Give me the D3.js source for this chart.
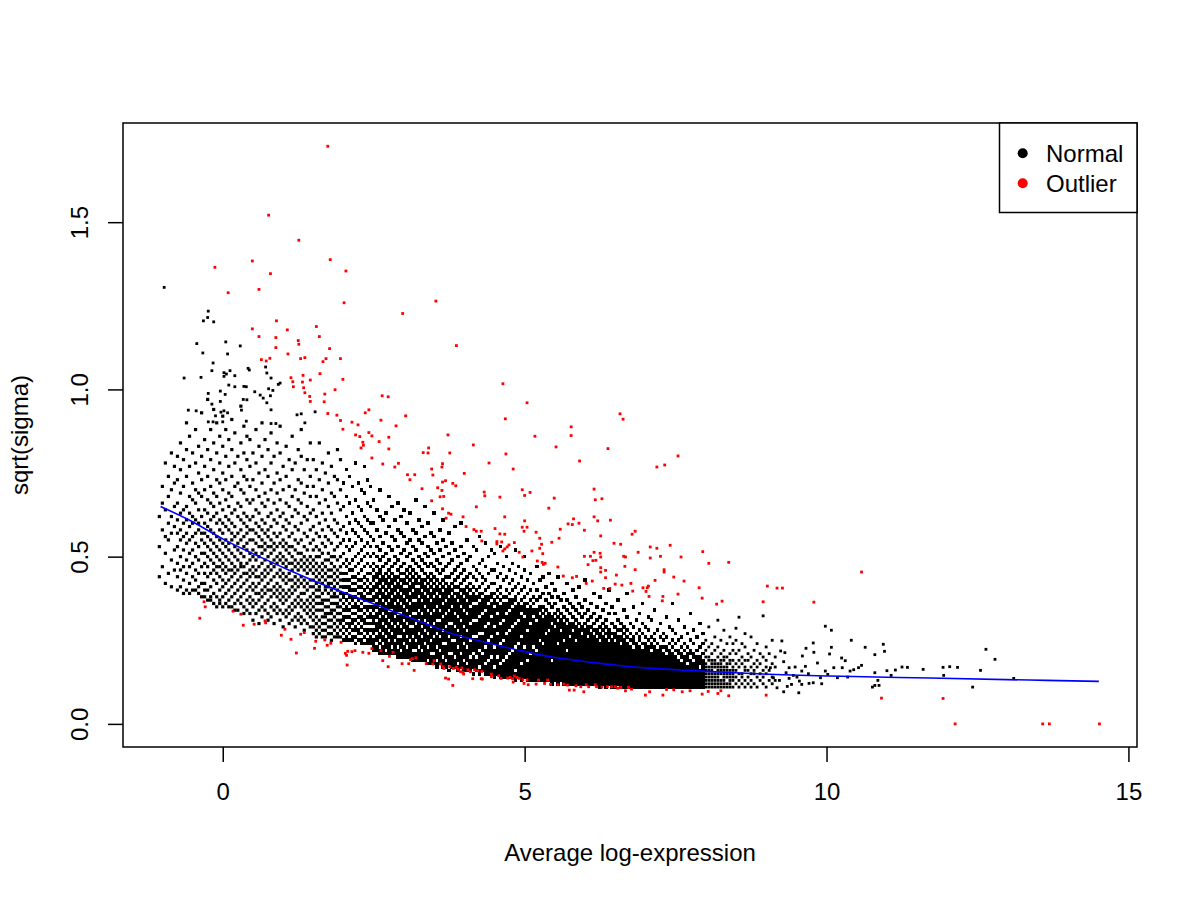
<!DOCTYPE html>
<html><head><meta charset="utf-8">
<script src="https://cdn.jsdelivr.net/npm/d3@7"></script>
<style>body{margin:0;background:#fff}svg{display:block}text{font-family:"Liberation Sans",Arial,Helvetica,sans-serif;fill:#000}</style>
</head><body><svg id="c" width="1200" height="900"></svg>
<script>
// ---- tick labels / legend ----
const xTicks=[0,5,10,15];
const yTicks=[0,0.5,1,1.5];
const legendLabels=["Normal","Outlier"];
const legendColors=["#000000","#ff0000"];
// ---- fitted trend (blue) ----
const trendX=[-1.03,-0.54,0.02,0.57,1.12,1.67,2.22,2.77,3.30,3.83,4.38,4.93,5.48,6.03,6.58,7.13,7.69,8.24,8.57,10.05,11.71,13.36,14.51];
const trendY=[0.650,0.608,0.551,0.503,0.458,0.416,0.378,0.340,0.304,0.268,0.243,0.219,0.199,0.186,0.174,0.166,0.160,0.155,0.152,0.143,0.137,0.131,0.127];
// ---- normal points, upper-left scatter [x,y] ----
const normalUpper=[[-0.97,1.305],[-0.24,1.234],[-0.25,1.215],[-0.32,1.205],[-0.15,1.202],[-0.43,1.137],[0.05,1.142],[0.29,1.130],[-0.33,1.109],[0.08,1.106],[-0.16,1.079],[-0.64,1.034],[-0.36,1.036],[-0.18,1.056],[0.02,1.050],[0.06,1.046],[0.02,1.039],[0.12,1.056],[0.20,1.041],[0.42,1.063],[0.44,1.058],[0.71,1.067],[0.73,1.049],[0.80,1.034],[0.92,1.015],[0.95,1.019],[0.10,1.013],[0.20,1.008],[0.35,1.009],[0.39,1.008],[0.53,0.993],[0.76,1.002],[0.83,0.997],[-0.24,0.988],[-0.04,0.995],[0.04,0.985],[0.62,0.983],[0.67,0.974],[0.79,0.981],[-0.18,0.956],[-0.04,0.964],[0.34,0.970],[0.40,0.969],[0.73,0.960],[-0.57,0.938],[-0.44,0.936],[-0.03,0.932],[0.02,0.936],[0.08,0.930],[-0.12,0.921],[0.31,0.938],[0.80,0.939],[1.23,0.924],[1.30,0.927],[1.53,0.933],[-0.24,0.903],[-0.16,0.903],[0.00,0.903],[0.39,0.905],[0.80,0.898],[0.88,0.898],[1.36,0.900]];
// ---- normal points, right tail [x,y] ----
const normalTail=[[8.55,0.319],[8.50,0.286],[8.95,0.323],[9.07,0.168],[9.12,0.138],[9.18,0.108],[9.26,0.248],[9.60,0.203],[9.78,0.242],[9.66,0.226],[9.79,0.214],[9.98,0.292],[10.08,0.280],[10.41,0.250],[10.64,0.229],[10.94,0.238],[10.96,0.217],[10.80,0.207],[10.08,0.229],[10.05,0.209],[10.25,0.197],[10.31,0.189],[10.39,0.158],[10.45,0.162],[10.53,0.168],[10.58,0.175],[10.80,0.153],[10.85,0.130],[10.87,0.115],[10.80,0.115],[10.76,0.110],[11.00,0.159],[11.07,0.145],[11.14,0.161],[11.25,0.170],[11.34,0.169],[11.60,0.163],[11.93,0.169],[12.04,0.171],[12.17,0.169],[11.94,0.145],[12.55,0.160],[12.64,0.223],[12.79,0.193],[12.42,0.110],[13.10,0.136],[9.29,0.186],[9.38,0.168],[9.48,0.170],[9.59,0.158],[9.51,0.140],[9.38,0.136],[9.59,0.118],[9.71,0.121],[9.78,0.123],[9.90,0.138],[9.98,0.158],[10.18,0.138],[10.26,0.168],[10.02,0.148],[9.29,0.096],[9.54,0.093],[9.42,0.118],[9.33,0.153],[9.24,0.218],[9.31,0.213],[9.45,0.145],[9.65,0.172],[9.85,0.182],[9.22,0.130],[9.35,0.112],[9.55,0.128],[10.12,0.168],[10.35,0.140],[9.70,0.150],[9.92,0.120]];
// ---- normal points by column: [x, y1, y2, ...] ----
const normalColsLeft=[
[-1.05,.44,.53,.62],[-1.00,.47,.58,.66,.71],[-0.95,.42,.51,.56,.64,.78],[-0.90,.45,.55,.60,.68,.74],[-0.85,.41,.49,.57,.62,.70,.81],[-0.80,.46,.52,.59,.65,.72,.77],
[-0.75,.40,.44,.48,.53,.57,.61,.66,.73,.80],[-0.70,.41,.46,.50,.55,.58,.63,.69,.76,.84],[-0.65,.39,.43,.47,.52,.56,.60,.64,.71,.79],[-0.60,.40,.45,.49,.54,.57,.61,.65,.74,.82,.90],
[-0.55,.39,.42,.47,.51,.55,.59,.63,.68,.77,.86],[-0.50,.40,.44,.48,.52,.56,.60,.62,.67,.72,.81],[-0.45,.40,.43,.46,.50,.54,.57,.61,.66,.70,.78,.88],[-0.40,.39,.41,.45,.49,.53,.58,.60,.64,.69,.75,.83],
[-0.35,.38,.42,.47,.51,.55,.57,.62,.68,.73,.80,.93],[-0.30,.38,.40,.42,.45,.48,.51,.54,.57,.60,.64,.70,.77,.85],[-0.25,.37,.40,.44,.47,.50,.53,.56,.59,.63,.67,.74,.82,.97],[-0.20,.37,.38,.41,.45,.49,.52,.55,.58,.61,.66,.71,.79,.88],
[-0.15,.36,.39,.43,.46,.48,.51,.54,.57,.62,.65,.69,.76,.84,.94],[-0.10,.35,.38,.42,.45,.47,.50,.53,.56,.60,.63,.68,.73,.81,.90],[-0.05,.36,.37,.40,.44,.47,.49,.52,.55,.58,.61,.66,.72,.78,.86],[0.00,.35,.38,.41,.43,.46,.48,.51,.54,.57,.60,.64,.70,.75,.83,.92],
[0.05,.36,.39,.42,.45,.47,.50,.53,.55,.59,.62,.67,.73,.80,.88],[0.10,.35,.37,.40,.43,.46,.49,.52,.54,.58,.61,.65,.69,.77,.85],[0.15,.35,.38,.41,.44,.46,.48,.51,.55,.57,.60,.63,.68,.74,.82,.91],[0.20,.34,.36,.39,.42,.45,.47,.50,.53,.56,.59,.64,.71,.78,.87],
[0.25,.34,.37,.40,.43,.46,.49,.52,.54,.57,.62,.66,.72,.80],[0.30,.36,.38,.41,.44,.47,.48,.51,.55,.58,.61,.65,.70,.76,.84,.95],[0.35,.33,.35,.39,.42,.45,.47,.50,.53,.56,.60,.63,.69,.74,.81,.89],[0.40,.34,.37,.40,.43,.45,.48,.52,.54,.57,.59,.62,.67,.73,.79,.86],
[0.45,.33,.36,.38,.41,.44,.46,.49,.51,.55,.58,.61,.66,.71,.77,.85],
[0.50,.31,.35,.37,.40,.42,.45,.47,.50,.52,.55,.58,.62,.67,.73,.81],[0.55,.33,.36,.39,.41,.44,.46,.49,.51,.54,.57,.60,.64,.70,.78,.88],[0.60,.30,.34,.37,.39,.42,.44,.47,.50,.53,.56,.59,.63,.68,.75,.83],[0.65,.32,.35,.38,.40,.43,.45,.48,.51,.53,.55,.58,.61,.66,.72,.80,.90],
[0.70,.34,.36,.39,.41,.44,.46,.49,.52,.54,.57,.60,.65,.69,.76,.85],[0.75,.31,.33,.37,.40,.42,.45,.47,.50,.53,.56,.58,.62,.67,.74,.82],[0.80,.32,.35,.38,.40,.43,.46,.48,.51,.53,.55,.59,.63,.70,.78,.87],[0.85,.30,.34,.36,.39,.41,.44,.47,.49,.52,.54,.57,.61,.66,.72,.80],
[0.90,.33,.35,.38,.40,.42,.45,.48,.50,.53,.56,.60,.64,.69,.75,.84],[0.95,.31,.34,.37,.39,.41,.44,.46,.49,.51,.54,.57,.62,.67,.73,.81,.89],[1.00,.29,.33,.36,.38,.40,.43,.45,.48,.50,.53,.55,.59,.63,.70,.77],[1.05,.32,.34,.37,.39,.42,.44,.47,.49,.52,.54,.58,.61,.66,.74,.83],
[1.10,.30,.33,.35,.38,.40,.43,.45,.48,.51,.53,.56,.60,.65,.71,.79],[1.15,.31,.34,.36,.39,.41,.43,.46,.48,.50,.53,.57,.62,.68,.76,.86],[1.20,.29,.32,.35,.37,.40,.42,.44,.47,.49,.52,.55,.59,.64,.70,.78],[1.25,.31,.33,.36,.38,.41,.43,.46,.48,.51,.54,.58,.63,.67,.73,.82],
[1.30,.30,.32,.35,.37,.39,.42,.44,.47,.49,.51,.55,.60,.66,.72,.80,.88],[1.35,.28,.31,.34,.36,.39,.41,.43,.46,.48,.50,.53,.57,.62,.69,.76],[1.40,.30,.33,.35,.37,.40,.42,.45,.47,.49,.52,.56,.61,.65,.71,.79],[1.45,.29,.32,.34,.36,.38,.41,.43,.46,.48,.50,.54,.58,.63,.68,.74,.84],
[1.50,.27,.29,.31,.33,.35,.37,.39,.41,.43,.45,.47,.49,.52,.55,.59,.64,.71,.79],[1.55,.26,.28,.30,.32,.34,.36,.38,.40,.42,.44,.46,.48,.50,.53,.57,.62,.68,.76],[1.60,.27,.29,.31,.34,.36,.38,.40,.41,.43,.45,.47,.50,.52,.56,.60,.66,.73,.84],[1.65,.26,.28,.30,.32,.34,.36,.37,.39,.42,.44,.46,.48,.51,.54,.58,.63,.70,.78],
[1.70,.26,.28,.30,.32,.33,.35,.37,.40,.41,.43,.45,.47,.49,.53,.56,.61,.67,.75],[1.75,.27,.29,.31,.33,.35,.37,.39,.41,.42,.44,.46,.49,.51,.55,.59,.65,.72,.81],[1.80,.25,.27,.29,.31,.33,.34,.36,.38,.40,.42,.44,.46,.48,.50,.54,.58,.63,.69,.77],[1.85,.26,.28,.30,.32,.34,.36,.38,.39,.41,.43,.45,.47,.50,.52,.57,.61,.68,.74],
[1.90,.26,.27,.29,.31,.33,.35,.36,.38,.40,.42,.44,.46,.49,.53,.56,.60,.66,.73,.82],[1.95,.26,.28,.30,.31,.33,.35,.37,.39,.41,.43,.45,.47,.50,.54,.58,.64,.70,.79]];
const normalColsMid=[
[2.00,.25,.27,.29,.31,.32,.34,.36,.38,.39,.41,.43,.45,.48,.51,.55,.59,.65,.72],[2.05,.25,.26,.28,.30,.32,.34,.35,.37,.39,.41,.43,.45,.47,.49,.53,.57,.62,.68,.76],
[2.10,.25,.27,.29,.30,.32,.34,.36,.38,.40,.41,.43,.46,.48,.52,.55,.60,.66,.74],[2.15,.25,.26,.28,.30,.31,.33,.35,.37,.38,.40,.42,.44,.46,.49,.53,.58,.63,.71],[2.20,.24,.26,.28,.29,.31,.33,.35,.36,.38,.40,.42,.44,.47,.50,.54,.57,.61,.67,.78],[2.25,.25,.27,.28,.30,.32,.34,.35,.37,.39,.41,.43,.45,.48,.51,.56,.60,.65,.72],
[2.30,.24,.25,.27,.29,.31,.32,.34,.36,.38,.39,.41,.43,.46,.49,.52,.55,.59,.64,.70],[2.35,.24,.26,.28,.30,.31,.33,.35,.37,.38,.40,.42,.44,.47,.50,.53,.58,.62,.69,.77],[2.40,.24,.25,.27,.28,.30,.32,.34,.35,.37,.39,.41,.43,.45,.48,.51,.54,.57,.61,.66,.73],[2.45,.24,.25,.26,.28,.30,.32,.33,.35,.37,.39,.40,.42,.45,.47,.50,.53,.56,.60,.65,.71],
[2.50,.22,.23,.24,.25,.27,.28,.30,.31,.32,.34,.35,.37,.38,.40,.41,.43,.44,.46,.48,.51,.55,.60,.67],[2.55,.22,.23,.25,.26,.28,.29,.30,.32,.33,.35,.36,.38,.39,.41,.42,.44,.45,.47,.50,.53,.58,.64],[2.60,.21,.22,.24,.26,.27,.29,.30,.31,.33,.34,.36,.37,.39,.40,.42,.43,.45,.46,.49,.52,.56,.62,.70],[2.65,.21,.22,.23,.25,.26,.28,.29,.31,.32,.34,.35,.36,.38,.39,.41,.43,.44,.47,.50,.54,.61],
[2.70,.21,.23,.24,.25,.27,.28,.30,.31,.33,.34,.35,.37,.38,.40,.42,.43,.45,.48,.51,.57,.63],[2.75,.21,.22,.23,.24,.26,.27,.29,.30,.32,.33,.35,.36,.38,.39,.41,.42,.44,.46,.49,.53,.59,.68],[2.80,.21,.22,.24,.25,.26,.28,.29,.31,.32,.33,.35,.36,.37,.39,.40,.42,.43,.45,.47,.52,.56,.65],[2.85,.21,.22,.23,.24,.26,.27,.28,.30,.31,.33,.34,.35,.37,.38,.40,.41,.43,.44,.48,.50,.55,.61],
[2.90,.20,.21,.22,.24,.25,.27,.28,.29,.31,.32,.34,.35,.36,.38,.39,.41,.42,.44,.46,.49,.53,.58,.66],[2.95,.20,.21,.23,.24,.25,.27,.28,.30,.31,.32,.34,.35,.37,.38,.40,.41,.43,.45,.47,.51,.57,.62],[3.00,.20,.21,.22,.23,.25,.26,.27,.29,.30,.32,.33,.34,.36,.37,.39,.40,.42,.43,.45,.48,.52,.56,.64],[3.05,.20,.21,.22,.24,.25,.27,.28,.29,.31,.32,.33,.35,.36,.38,.39,.40,.42,.44,.46,.50,.54,.60],
[3.10,.20,.21,.22,.23,.24,.26,.27,.28,.30,.31,.33,.34,.35,.37,.38,.40,.41,.43,.45,.47,.51,.55,.63],[3.15,.19,.20,.21,.23,.24,.25,.27,.28,.30,.31,.32,.34,.35,.36,.38,.39,.41,.42,.44,.46,.49,.53,.58],[3.20,.19,.20,.21,.23,.24,.26,.27,.28,.29,.31,.32,.34,.35,.36,.38,.39,.40,.42,.43,.45,.48,.52,.57,.67],[3.25,.19,.20,.21,.22,.24,.25,.26,.28,.29,.30,.32,.33,.35,.36,.37,.39,.40,.42,.44,.47,.50,.55,.61],
[3.30,.19,.20,.21,.23,.24,.25,.27,.28,.30,.31,.32,.34,.35,.36,.38,.39,.41,.42,.43,.46,.49,.54,.59],[3.35,.19,.20,.21,.22,.23,.25,.26,.27,.29,.30,.32,.33,.34,.36,.37,.38,.40,.41,.43,.45,.48,.51,.56,.65],[3.40,.18,.20,.21,.22,.24,.25,.26,.28,.29,.31,.32,.33,.35,.36,.37,.39,.40,.42,.44,.47,.50,.53,.60],[3.45,.18,.19,.20,.22,.23,.24,.26,.27,.28,.30,.31,.32,.34,.35,.36,.38,.39,.41,.43,.45,.48,.52,.57],
[3.50,.18,.19,.20,.22,.23,.24,.25,.27,.28,.29,.31,.32,.33,.35,.36,.37,.39,.40,.42,.44,.47,.51,.56,.63],[3.55,.17,.18,.20,.21,.22,.24,.25,.26,.28,.29,.30,.32,.33,.34,.36,.37,.38,.40,.41,.43,.46,.49,.54],[3.60,.18,.19,.20,.21,.23,.24,.25,.27,.28,.29,.30,.32,.33,.35,.36,.37,.39,.40,.42,.45,.48,.52,.58],[3.65,.17,.18,.19,.21,.22,.23,.25,.26,.27,.29,.30,.31,.33,.34,.35,.37,.38,.39,.41,.43,.46,.50,.55,.61],
[3.70,.17,.18,.20,.21,.22,.23,.25,.26,.27,.28,.30,.31,.32,.34,.35,.36,.38,.39,.40,.42,.44,.47,.53],[3.75,.16,.18,.19,.20,.22,.23,.24,.25,.27,.28,.29,.31,.32,.33,.35,.36,.37,.39,.40,.41,.44,.48,.51,.57],[3.80,.17,.18,.19,.20,.22,.23,.24,.26,.27,.28,.29,.31,.32,.33,.34,.36,.37,.38,.40,.42,.45,.49,.54],[3.85,.17,.18,.19,.21,.22,.23,.24,.26,.27,.28,.30,.31,.32,.34,.35,.36,.37,.39,.41,.43,.46,.52,.59],
[3.90,.16,.17,.19,.20,.21,.22,.24,.25,.26,.27,.29,.30,.31,.33,.34,.35,.36,.38,.39,.41,.44,.47,.50],[3.95,.17,.18,.19,.20,.22,.23,.24,.25,.27,.28,.29,.30,.32,.33,.34,.36,.37,.38,.40,.42,.45,.48,.53,.60],[4.00,.16,.17,.18,.20,.21,.22,.23,.25,.26,.27,.28,.30,.31,.32,.33,.35,.36,.37,.39,.40,.43,.46,.51],[4.05,.16,.17,.19,.20,.21,.22,.24,.25,.26,.27,.29,.30,.31,.32,.34,.35,.36,.38,.39,.41,.44,.49,.55],
[4.10,.16,.17,.18,.19,.21,.22,.23,.24,.26,.27,.28,.29,.31,.32,.33,.34,.36,.37,.38,.40,.42,.45,.50],[4.15,.15,.17,.18,.19,.20,.22,.23,.24,.25,.27,.28,.29,.30,.32,.33,.34,.35,.37,.38,.39,.41,.44,.47,.53],[4.20,.16,.17,.18,.19,.21,.22,.23,.24,.25,.27,.28,.29,.30,.32,.33,.34,.35,.37,.38,.40,.43,.46,.52],[4.25,.15,.16,.18,.19,.20,.21,.23,.24,.25,.26,.28,.29,.30,.31,.33,.34,.35,.36,.38,.39,.41,.45,.48,.56],
[4.30,.16,.17,.18,.19,.20,.22,.23,.24,.25,.26,.28,.29,.30,.31,.32,.34,.35,.36,.37,.39,.42,.44,.49],[4.35,.15,.16,.17,.19,.20,.21,.22,.24,.25,.26,.27,.28,.30,.31,.32,.33,.35,.36,.37,.38,.40,.43,.47,.54],[4.40,.15,.16,.17,.18,.20,.21,.22,.23,.24,.26,.27,.28,.29,.31,.32,.33,.34,.35,.37,.38,.41,.45,.50],[4.45,.15,.16,.17,.18,.19,.21,.22,.23,.24,.25,.27,.28,.29,.30,.31,.33,.34,.35,.36,.38,.39,.42,.46,.52]];
const normalColsCore=[
[4.50,.14,.15,.16,.18,.19,.20,.21,.22,.24,.25,.26,.27,.28,.30,.31,.32,.33,.34,.36,.37,.39,.42,.46,.51],[4.55,.15,.16,.17,.18,.19,.21,.22,.23,.24,.25,.26,.28,.29,.30,.31,.32,.34,.35,.36,.38,.40,.44,.48],[4.60,.14,.15,.16,.17,.19,.20,.21,.22,.23,.25,.26,.27,.28,.29,.31,.32,.33,.34,.35,.37,.39,.41,.45,.53],[4.65,.14,.15,.16,.17,.18,.20,.21,.22,.23,.24,.26,.27,.28,.29,.30,.32,.33,.34,.35,.36,.38,.43,.47],
[4.70,.14,.15,.16,.17,.18,.19,.21,.22,.23,.24,.25,.26,.28,.29,.30,.31,.32,.34,.35,.36,.38,.40,.44,.50],[4.75,.14,.15,.16,.17,.18,.19,.20,.22,.23,.24,.25,.26,.27,.29,.30,.31,.32,.33,.35,.36,.37,.39,.42,.46],[4.80,.14,.15,.16,.17,.18,.19,.20,.21,.23,.24,.25,.26,.27,.28,.30,.31,.32,.33,.34,.36,.37,.40,.43,.48],[4.85,.13,.14,.15,.17,.18,.19,.20,.21,.22,.24,.25,.26,.27,.28,.29,.31,.32,.33,.34,.35,.37,.38,.41,.45,.52],
[4.90,.14,.15,.16,.17,.18,.19,.20,.21,.22,.23,.25,.26,.27,.28,.29,.30,.32,.33,.34,.35,.36,.39,.42,.47],[4.95,.13,.14,.15,.16,.17,.19,.20,.21,.22,.23,.24,.25,.27,.28,.29,.30,.31,.32,.34,.35,.37,.40,.44],[5.00,.14,.15,.16,.17,.18,.19,.20,.21,.22,.24,.25,.26,.27,.28,.29,.30,.31,.33,.34,.35,.36,.38,.41,.46,.50],[5.05,.13,.14,.15,.16,.17,.18,.20,.21,.22,.23,.24,.25,.26,.27,.29,.30,.31,.32,.33,.34,.36,.39,.43],
[5.10,.13,.14,.15,.16,.17,.18,.19,.20,.22,.23,.24,.25,.26,.27,.28,.29,.31,.32,.33,.34,.35,.37,.40,.45],[5.15,.13,.14,.15,.16,.17,.18,.19,.20,.21,.22,.24,.25,.26,.27,.28,.29,.30,.31,.33,.34,.36,.38,.42],[5.20,.13,.14,.15,.16,.17,.18,.19,.20,.21,.23,.24,.25,.26,.27,.28,.29,.30,.32,.33,.34,.37,.40,.47],[5.25,.13,.14,.15,.16,.17,.18,.19,.20,.21,.22,.23,.24,.26,.27,.28,.29,.30,.31,.32,.34,.35,.38,.43],
[5.30,.13,.14,.15,.16,.17,.18,.19,.20,.21,.22,.23,.25,.26,.27,.28,.29,.30,.31,.33,.35,.39,.44],[5.35,.13,.14,.15,.16,.17,.18,.19,.20,.21,.22,.23,.24,.25,.26,.28,.29,.30,.31,.32,.34,.37,.41],[5.40,.13,.14,.15,.16,.17,.18,.19,.20,.21,.22,.23,.24,.25,.26,.27,.29,.30,.31,.32,.33,.36,.39,.45],[5.45,.12,.13,.14,.15,.16,.17,.18,.20,.21,.22,.23,.24,.25,.26,.27,.28,.29,.31,.32,.35,.38,.42],
[5.50,.13,.14,.15,.16,.17,.18,.19,.20,.21,.22,.23,.24,.25,.26,.27,.28,.30,.31,.33,.36,.40],[5.55,.12,.13,.14,.15,.16,.17,.18,.19,.20,.21,.22,.23,.25,.26,.27,.28,.29,.30,.32,.34,.38,.44],[5.60,.13,.14,.15,.16,.17,.18,.19,.20,.21,.22,.23,.24,.25,.26,.27,.29,.30,.31,.33,.37],[5.65,.12,.13,.14,.15,.16,.17,.18,.19,.20,.21,.22,.23,.24,.26,.27,.28,.29,.30,.32,.35,.39],
[5.70,.12,.13,.14,.15,.16,.17,.18,.19,.20,.21,.23,.24,.25,.26,.27,.28,.29,.31,.34,.37,.42],[5.75,.12,.13,.14,.15,.16,.17,.18,.19,.20,.21,.22,.23,.24,.25,.27,.28,.29,.30,.33,.36],[5.80,.12,.13,.14,.15,.16,.17,.18,.19,.20,.21,.22,.23,.24,.25,.26,.27,.29,.30,.32,.35,.40],[5.85,.12,.13,.14,.15,.16,.17,.18,.19,.20,.21,.22,.23,.24,.26,.27,.28,.29,.31,.34,.38],
[5.90,.12,.13,.14,.15,.16,.17,.18,.19,.20,.21,.22,.23,.24,.25,.26,.27,.28,.30,.33,.36,.41],[5.95,.12,.13,.14,.15,.16,.17,.18,.19,.20,.21,.22,.23,.24,.25,.26,.28,.29,.32,.35],[6.00,.12,.13,.14,.15,.16,.17,.18,.19,.20,.21,.22,.23,.24,.25,.26,.27,.28,.30,.33,.37,.43],[6.05,.12,.13,.14,.15,.16,.17,.18,.19,.20,.21,.22,.23,.24,.25,.27,.28,.29,.31,.34],
[6.10,.12,.13,.14,.15,.16,.17,.18,.19,.20,.21,.22,.23,.24,.25,.26,.27,.29,.32,.36],[6.15,.12,.13,.14,.15,.16,.17,.18,.19,.20,.21,.22,.23,.24,.25,.26,.28,.30,.33,.39],[6.20,.12,.13,.14,.15,.16,.17,.18,.19,.20,.21,.22,.23,.24,.25,.27,.28,.31,.35],[6.25,.11,.12,.13,.14,.15,.16,.17,.18,.19,.20,.21,.22,.23,.24,.26,.27,.29,.32,.38],
[6.30,.12,.13,.14,.15,.16,.17,.18,.19,.20,.21,.22,.23,.24,.25,.26,.28,.30,.34],[6.35,.11,.12,.13,.14,.15,.16,.17,.18,.19,.20,.21,.22,.23,.24,.25,.27,.29,.31,.36],[6.40,.12,.13,.14,.15,.16,.17,.18,.19,.20,.21,.22,.23,.24,.26,.27,.28,.33,.40],[6.45,.11,.12,.13,.14,.15,.16,.17,.18,.19,.20,.21,.22,.23,.24,.25,.27,.30,.35],
[6.50,.11,.12,.13,.14,.15,.16,.17,.18,.19,.20,.21,.22,.23,.24,.26,.27,.29,.33],[6.55,.12,.13,.14,.15,.16,.17,.18,.19,.20,.21,.22,.23,.24,.25,.26,.28,.31,.37],[6.60,.11,.12,.13,.14,.15,.16,.17,.18,.19,.20,.21,.22,.23,.25,.26,.28,.30],[6.65,.11,.12,.13,.14,.15,.16,.17,.18,.19,.20,.21,.22,.23,.24,.25,.27,.29,.34],
[6.70,.11,.12,.13,.14,.15,.16,.17,.18,.19,.20,.21,.22,.23,.24,.26,.28,.32,.39],[6.75,.11,.12,.13,.14,.15,.16,.17,.18,.19,.20,.21,.22,.23,.25,.27,.30],[6.80,.11,.12,.13,.14,.15,.16,.17,.18,.19,.20,.21,.22,.24,.25,.26,.29,.35],[6.85,.11,.12,.13,.14,.15,.16,.17,.18,.19,.20,.21,.22,.23,.24,.27,.31],
[6.90,.11,.12,.13,.14,.15,.16,.17,.18,.19,.20,.21,.22,.23,.25,.26,.28,.33],[6.95,.11,.12,.13,.14,.15,.16,.17,.18,.19,.20,.21,.22,.24,.27,.30,.36],[7.00,.11,.12,.13,.14,.15,.16,.17,.18,.19,.20,.21,.22,.23,.24,.26,.29],[7.05,.11,.12,.13,.14,.15,.16,.17,.18,.19,.20,.21,.22,.23,.25,.28,.32],
[7.10,.11,.12,.13,.14,.15,.16,.17,.18,.19,.20,.21,.23,.24,.26,.31],[7.15,.11,.12,.13,.14,.15,.16,.17,.18,.19,.20,.21,.22,.23,.25,.27,.34],[7.20,.11,.12,.13,.14,.15,.16,.17,.18,.19,.20,.21,.22,.24,.28],[7.25,.11,.12,.13,.14,.15,.16,.17,.18,.19,.20,.21,.22,.23,.26,.30],
[7.30,.11,.12,.13,.14,.15,.16,.17,.18,.19,.20,.21,.23,.25,.27],[7.35,.11,.12,.13,.14,.15,.16,.17,.18,.19,.20,.22,.23,.26,.32],[7.40,.11,.12,.13,.14,.15,.16,.17,.18,.19,.20,.21,.22,.24,.29],[7.45,.11,.12,.13,.14,.15,.16,.17,.18,.19,.20,.21,.23,.25,.28,.36],
[7.50,.11,.12,.13,.14,.15,.16,.17,.18,.19,.20,.22,.24,.27],[7.55,.11,.12,.13,.14,.15,.16,.17,.18,.19,.21,.22,.25,.31],[7.60,.11,.12,.13,.14,.15,.16,.17,.18,.20,.21,.23,.26],[7.65,.11,.12,.13,.14,.15,.16,.17,.18,.19,.20,.22,.24,.29],
[7.70,.11,.12,.13,.14,.15,.16,.17,.19,.20,.21,.23,.27],[7.75,.11,.12,.13,.14,.15,.16,.17,.18,.19,.21,.22,.25,.33],[7.80,.11,.12,.13,.14,.15,.16,.17,.18,.20,.21,.24,.28],[7.85,.11,.12,.13,.14,.15,.16,.17,.18,.19,.20,.22,.26],
[7.90,.11,.12,.13,.14,.15,.16,.18,.19,.20,.23,.30],[7.95,.11,.12,.13,.14,.15,.16,.17,.18,.19,.21,.24,.27]];
const normalColsEdge=[
[8.00,.11,.12,.13,.14,.15,.16,.17,.18,.20,.22,.25],[8.05,.11,.12,.13,.14,.15,.16,.17,.19,.20,.23,.29],
[8.10,.11,.12,.13,.14,.15,.16,.17,.18,.19,.21,.24],[8.15,.11,.12,.13,.14,.15,.17,.18,.19,.22,.26],[8.20,.11,.12,.13,.14,.15,.16,.17,.18,.20,.23,.31],[8.25,.11,.12,.13,.15,.16,.17,.18,.19,.21,.25],
[8.30,.11,.12,.13,.14,.15,.16,.17,.19,.20,.22,.28],[8.35,.11,.12,.14,.15,.16,.17,.18,.20,.24],[8.40,.11,.12,.13,.14,.15,.16,.18,.19,.21,.26],[8.45,.11,.13,.14,.15,.16,.17,.19,.22,.24],
[8.50,.12,.14,.16,.18,.21,.25],[8.55,.11,.13,.15,.17,.19,.22],[8.60,.12,.14,.15,.18,.20,.24],[8.65,.11,.13,.16,.17,.19,.23,.27],[8.70,.12,.14,.16,.19,.21],[8.75,.11,.13,.15,.17,.20,.26],[8.80,.12,.15,.16,.18,.22],
[8.85,.11,.14,.17,.19,.24],[8.90,.13,.15,.18,.21],[8.95,.12,.14,.16,.20],[9.00,.11,.15,.17,.19,.23],[9.05,.13,.16,.21],[9.10,.12,.14,.18,.25],[9.15,.13,.17,.20]];
// ---- outlier points [x,y] ----
const outlierPoints=[[1.74,1.727],[0.76,1.521],[1.26,1.446],[0.49,1.384],[-0.13,1.365],[1.78,1.388],[2.04,1.354],[0.79,1.346],[0.60,1.299],[0.09,1.289],[2.01,1.259],[2.98,1.227],[3.53,1.264],[0.89,1.205],[0.49,1.181],[1.07,1.178],[1.55,1.188],[0.60,1.158],[0.88,1.155],[1.60,1.158],[1.25,1.146],[1.26,1.135],[0.88,1.125],[1.77,1.122],[1.08,1.106],[0.64,1.089],[0.72,1.085],[0.78,1.093],[1.29,1.092],[1.36,1.095],[1.66,1.083],[1.71,1.092],[1.95,1.092],[1.61,1.047],[1.33,1.042],[1.13,1.035],[1.16,1.023],[1.32,1.022],[1.45,1.028],[1.99,1.030],[1.17,1.008],[1.34,1.005],[1.36,0.990],[1.86,0.999],[1.69,0.986],[1.44,0.979],[1.45,0.964],[1.68,0.963],[2.64,0.981],[2.74,0.978],[1.74,0.928],[1.89,0.923],[2.36,0.930],[2.42,0.939],[3.03,0.921],[2.62,0.908],[1.95,0.907],[2.14,0.902],
[2.24,0.894],[2.87,0.891],[1.99,0.881],[2.20,0.864],[2.27,0.859],[2.32,0.842],[2.33,0.833],[2.29,0.825],[2.42,0.871],[2.47,0.861],[2.59,0.844],[2.75,0.857],[2.75,0.822],[2.47,0.795],[2.65,0.777],[2.91,0.779],[2.85,0.768],[3.06,0.745],[3.18,0.745],[3.10,0.730],
[3.87,1.131],[4.64,1.017],[5.04,0.960],[4.68,0.912],[6.58,0.927],[6.63,0.911],[5.77,0.888],[5.77,0.862],[5.17,0.860],[3.73,0.864],[3.41,0.825],[3.32,0.811],[3.40,0.810],[4.15,0.834],[3.76,0.810],[5.52,0.828],[6.38,0.823],[4.69,0.807],[7.54,0.801],[7.19,0.768],[7.32,0.774],[5.91,0.786],[4.41,0.780],[4.81,0.762],[3.64,0.778],[3.63,0.768],[3.46,0.762],[3.48,0.744],[4.00,0.749],[3.64,0.723],[3.69,0.727],[3.81,0.719],[3.86,0.712],[3.56,0.706],[3.63,0.698],[3.30,0.703],[4.33,0.693],[4.34,0.682],[4.59,0.678],[4.96,0.700],[5.00,0.683],[5.09,0.692],[6.15,0.702],[5.49,0.675],[6.17,0.670],[6.28,0.673],[3.60,0.679],[3.66,0.680],[3.46,0.667],[3.64,0.643],[4.20,0.649],[5.40,0.645],[3.74,0.630],[3.78,0.627],[3.98,0.619],[3.70,0.615],[4.67,0.619],[6.15,0.619],[6.21,0.607],[6.42,0.609],[5.00,0.607],[5.81,0.613],[5.72,0.598],[5.79,0.596],[5.90,0.600],[4.03,0.590],[4.96,0.588],[5.04,0.588],[4.16,0.581],[4.20,0.576],[4.28,0.576],[4.99,0.576],[5.59,0.582],[5.99,0.579],[6.83,0.576],[6.78,0.567],[4.51,0.584],[4.59,0.568],[4.67,0.567],[6.26,0.562],[5.19,0.573],[5.25,0.555],[5.57,0.555],[4.29,0.547],[4.54,0.545],[4.54,0.538],[4.62,0.544],[4.74,0.535],[4.71,0.529],[4.67,0.523],[4.64,0.517],[4.83,0.542],[5.28,0.537],[5.45,0.543],[6.48,0.540],[6.59,0.537],[7.41,0.534],[7.08,0.529],[7.19,0.525],[5.25,0.525],[5.12,0.517],[4.91,0.513],[5.30,0.509],[6.15,0.513],[6.25,0.510],[6.88,0.513],[7.95,0.515],[5.99,0.501],[6.09,0.501],[6.26,0.499],[6.64,0.501],[6.67,0.499],[7.08,0.496],[7.25,0.501],[7.59,0.499],[4.97,0.499],[5.21,0.487],[5.29,0.483],[5.34,0.480],[5.31,0.477],[6.05,0.476],[6.13,0.488],[6.18,0.489],[8.05,0.480],[8.38,0.483],[5.55,0.469],[6.26,0.467],[6.26,0.454],[6.34,0.459],[6.66,0.471],[6.83,0.461],[7.31,0.461],[7.31,0.454],[5.64,0.442],[5.79,0.437],[5.86,0.441],[6.34,0.437],[6.52,0.445],[7.47,0.439],[7.64,0.427],[6.02,0.420],[6.12,0.427],[6.50,0.418],[6.61,0.415],[6.76,0.420],[7.16,0.429],[6.31,0.405],[6.41,0.405],[6.96,0.407],[7.05,0.412],[7.03,0.407],[7.01,0.396],[6.79,0.397],[7.89,0.407],[7.54,0.388],[7.06,0.381],[7.29,0.381],[7.28,0.368],[7.94,0.376],[8.18,0.358],[8.27,0.367],
[10.58,0.454],[9.02,0.412],[9.18,0.406],[9.27,0.406],[8.95,0.365],[9.79,0.364],[9.00,0.086],[10.91,0.077],[11.93,0.076],[12.13,0.0],[13.58,0.0],[13.69,0.0],[14.52,0.0],
[-0.31,0.365],[-0.29,0.350],[-0.38,0.316],[0.17,0.337],[0.30,0.328],[0.34,0.295],[0.52,0.298],[0.70,0.308],[0.71,0.302],[1.03,0.283],[0.97,0.265],[1.13,0.253],[1.29,0.268],[1.35,0.273],[1.22,0.212],[1.54,0.247],[1.52,0.226],[1.69,0.251],[1.73,0.235],[1.79,0.241],[1.96,0.244],[2.03,0.211],[2.07,0.217],[2.05,0.205],[2.14,0.216],[2.19,0.219],[2.06,0.176],[2.32,0.214],[2.42,0.211],[2.47,0.225],[2.62,0.219],[2.65,0.189],[2.76,0.202],[2.74,0.171],[2.82,0.214],[2.97,0.180],[3.08,0.180],[3.11,0.192],[3.14,0.195],[3.20,0.198],[3.17,0.160],
[3.37,0.180],[3.50,0.189],[3.48,0.179],[3.61,0.179],[3.65,0.171],[3.66,0.166],[3.69,0.137],[3.74,0.134],[3.81,0.115],[3.76,0.171],[3.82,0.166],[3.87,0.169],[3.90,0.163],[3.94,0.156],[3.98,0.154],[3.96,0.167],[3.99,0.149],[4.06,0.162],[4.10,0.156],[4.14,0.135],[4.17,0.162],[4.22,0.159],[4.29,0.157],[4.28,0.135],[4.30,0.134],[4.45,0.149],[4.45,0.141],[4.57,0.144],[4.61,0.136],[4.72,0.137],[4.76,0.139],[4.80,0.135],[4.83,0.143],[4.87,0.139],[4.81,0.125],[4.91,0.136],[4.97,0.132],[5.04,0.132],[4.99,0.121],[5.06,0.117],[5.19,0.119],[5.23,0.131],[5.33,0.121],[5.38,0.131],[5.43,0.118],[5.55,0.117],[5.65,0.119],[5.71,0.116],[5.74,0.101],[5.82,0.101],[5.85,0.114],[5.93,0.111],[5.98,0.096],[6.02,0.117],[6.06,0.111],[6.17,0.117],[6.19,0.111],[6.28,0.110],[6.37,0.111],[6.44,0.111],[6.50,0.111],[6.54,0.107],[6.59,0.109],[6.67,0.099],[6.72,0.109],[6.77,0.104],[7.00,0.086],[7.07,0.096],[7.29,0.086],[7.35,0.103],[7.47,0.102],[7.61,0.096],[7.74,0.099],[7.94,0.089],[8.04,0.097],[8.20,0.091],[8.25,0.099],[8.38,0.084]];

// ---- drawing ----
const W=1200,H=900,L=123,R=1137,T=123,B=747;
const x=d3.scaleLinear().domain([-1.652,15.142]).range([L,R]);
const y=d3.scaleLinear().domain([-0.0691,1.7965]).range([B,T]);
const svg=d3.select('#c');
svg.append('rect').attr('width',W).attr('height',H).attr('fill','#fff');

const flatten=cols=>{const out=[];cols.forEach(c=>{for(let i=1;i<c.length;i++)out.push([c[0],c[i]]);});return out;};
const normalSparse=[...normalUpper,...normalTail,...flatten(normalColsEdge)];
const normalLeft=flatten(normalColsLeft);
const normalDense=[...flatten(normalColsMid),...flatten(normalColsCore)];

const drawMarks=(data,size,color,crisp)=>{
  const g=svg.append('g');
  if(crisp)g.attr('shape-rendering','crispEdges');
  g.selectAll('rect').data(data).join('rect')
    .attr('x',d=>x(d[0])-size/2).attr('y',d=>y(d[1])-size/2).attr('width',size).attr('height',size).attr('fill',color);
};
drawMarks(normalSparse,2.8,'#000',false);
drawMarks(normalLeft,3.2,'#000',false);
drawMarks(normalDense,3.6,'#000',true);
drawMarks(outlierPoints,2.8,'#ff0000',false);

const trend=trendX.map((v,i)=>[v,trendY[i]]);
svg.append('path').datum(trend).attr('fill','none').attr('stroke','#0000ff').attr('stroke-width',1.6)
  .attr('d',d3.line().x(d=>x(d[0])).y(d=>y(d[1])).curve(d3.curveMonotoneX));

// box
svg.append('rect').attr('x',L).attr('y',T).attr('width',R-L).attr('height',B-T).attr('fill','none').attr('stroke','#000').attr('stroke-width',1.5);

// axes
const gx=svg.append('g').attr('transform',`translate(0,${B})`)
  .call(d3.axisBottom(x).tickValues(xTicks).tickSize(15).tickPadding(21).tickFormat(d3.format('d')));
gx.select('.domain').remove();
gx.selectAll('line').attr('stroke','#000').attr('stroke-width',1.5);
gx.selectAll('text').attr('font-size',24).attr('font-family','"Liberation Sans",Arial,sans-serif');

const gy=svg.append('g').attr('transform',`translate(${L},0)`)
  .call(d3.axisLeft(y).tickValues(yTicks).tickSize(15).tickFormat(d3.format('.1f')));
gy.select('.domain').remove();
gy.selectAll('line').attr('stroke','#000').attr('stroke-width',1.5);
gy.selectAll('text').attr('x',null).attr('dy',null).attr('text-anchor','middle')
  .attr('transform',`translate(${88-L},0) rotate(-90)`)
  .attr('font-size',24).attr('font-family','"Liberation Sans",Arial,sans-serif');

svg.append('text').attr('x',(L+R)/2).attr('y',861).attr('text-anchor','middle').attr('font-size',24).text('Average log-expression');
svg.append('text').attr('transform',`translate(28,${(T+B)/2}) rotate(-90)`).attr('text-anchor','middle').attr('font-size',24).text('sqrt(sigma)');

// legend
const lg=svg.append('g');
lg.append('rect').attr('x',999.5).attr('y',T).attr('width',R-999.5).attr('height',212.5-T).attr('fill','#fff').attr('stroke','#000').attr('stroke-width',1.5);
legendLabels.forEach((lab,i)=>{
  lg.append('circle').attr('cx',1022.7).attr('cy',153.3+30*i).attr('r',5).attr('fill',legendColors[i]);
  lg.append('text').attr('x',1046).attr('y',162+30*i).attr('font-size',24).text(lab);
});
</script></body></html>
